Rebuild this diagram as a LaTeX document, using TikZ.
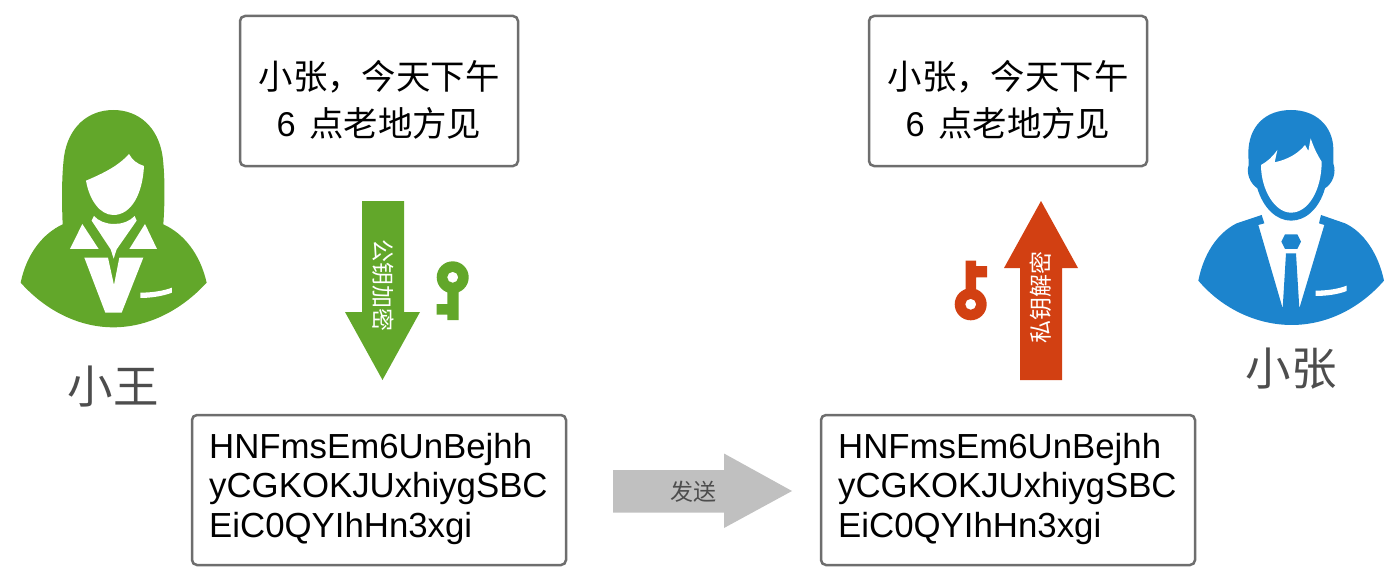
\documentclass[tikz,border=0pt]{standalone}
\usepackage{fontspec}
\setmainfont{Liberation Sans}
\newfontfamily\cjk{Noto Sans CJK SC}
\usepackage{xcolor}
\definecolor{vert}{HTML}{62A72A}
\definecolor{bleu}{HTML}{1C84CD}
\definecolor{rouge}{HTML}{D24012}
\definecolor{gris}{HTML}{C0C0C0}
\definecolor{bord}{HTML}{6E6E6E}
\definecolor{encre}{HTML}{4D4D4D}
\begin{document}
\begin{tikzpicture}[x=1pt,y=-1pt]
% Styles
\tikzstyle{boite}=[draw=bord,line width=2.5pt,rounded corners=5pt,fill=white,inner sep=0pt,align=center]
\tikzstyle{haut}=[boite,minimum width=278pt,minimum height=150pt]
\tikzstyle{bas}=[boite,minimum width=374pt,minimum height=150pt]
\tikzstyle{ligne}=[inner sep=0pt,font=\fontsize{34.4pt}{34.4pt}\selectfont]
\tikzstyle{chiffre}=[anchor=base west,inner sep=0pt,font=\fontsize{34.8pt}{34.8pt}\selectfont]
\tikzstyle{nom}=[text=encre,inner sep=0pt,font=\cjk\fontsize{45.5pt}{45.5pt}\selectfont]
\tikzstyle{sens}=[text=white,inner sep=0pt,font=\cjk\fontsize{23pt}{23pt}\selectfont]
\useasboundingbox (0,0) rectangle (1396,586);
% Boites
\node[haut] (ClairA) at (379,91) {};
\node[haut] (ClairB) at (1008,91) {};
\node[bas] (ChiffreA) at (379,490) {};
\node[bas] (ChiffreB) at (1008,490) {};
\node[ligne] (TexteAa) at (379,77) {\cjk 小张，今天下午};
\node[ligne] (TexteAb) at (379,123) {6\hspace{4pt} {\cjk 点老地方见}};
\node[ligne] (TexteBa) at (1008,77) {\cjk 小张，今天下午};
\node[ligne] (TexteBb) at (1008,123) {6\hspace{4pt} {\cjk 点老地方见}};
\node[chiffre] (LigneAa) at (209,458) {HNFmsEm6UnBejhh};
\node[chiffre] (LigneAb) at (209,497.5) {yCGKOKJUxhiygSBC};
\node[chiffre] (LigneAc) at (209,537) {EiC0QYIhHn3xgi};
\node[chiffre] (LigneBa) at (838,458) {HNFmsEm6UnBejhh};
\node[chiffre] (LigneBb) at (838,497.5) {yCGKOKJUxhiygSBC};
\node[chiffre] (LigneBc) at (838,537) {EiC0QYIhHn3xgi};
% Fleches
\fill[vert] (362,201)--(404,201)--(404,312)--(420,312)--(382.5,380)--(345,312)--(362,312)--cycle;
\fill[rouge] (1020,380)--(1062,380)--(1062,268)--(1078,268)--(1041,201)--(1004,268)--(1020,268)--cycle;
\fill[gris] (613,470)--(724,470)--(724,453.5)--(792,491)--(724,528)--(724,512.5)--(613,512.5)--cycle;
\node[sens,rotate=-90] (Chiffrer) at (383,285) {公钥加密};
\node[sens,rotate=90] (Dechiffrer) at (1041,297) {私钥解密};
\node[sens,text=encre] (Envoi) at (693,491.5) {发送};
% Cles
\fill[vert,even odd rule] (452.7,277.3) circle (16) (452.7,277.3) circle (5.5);
\fill[vert] (447.3,290)--(458.7,290)--(458.7,320)--(447.3,320)--(447.3,314.7)--(436.7,314.7)--(436.7,304)--(447.3,304)--cycle;
\fill[rouge,even odd rule] (970.7,304.3) circle (16) (970.7,304.3) circle (5.5);
\fill[rouge] (965.7,292)--(976,292)--(976,277.3)--(987,277.3)--(987,266)--(976,266)--(976,260.7)--(965.7,260.7)--cycle;
% Xiao Wang
\begin{scope}[shift={(0,90)},x=0.3333pt,y=-0.3333pt]
\fill[vert] (62,578) .. controls (140,665) and (240,712) .. (340,712) .. controls (440,712) and (540,665) .. (620,578) .. controls (600,490) and (550,430) .. (490,403) .. controls (495,330) and (495,260) .. (488,200) .. controls (475,110) and (415,60) .. (340,60) .. controls (265,60) and (205,110) .. (192,200) .. controls (185,260) and (185,330) .. (188,403) .. controls (130,430) and (80,490) .. (62,578) -- cycle;
\fill[white] (258,272) .. controls (310,250) and (355,228) .. (387,192) .. controls (397,210) and (412,222) .. (432,228) .. controls (428,310) and (395,375) .. (340,375) .. controls (300,375) and (268,330) .. (258,272) -- cycle;
\fill[white] (282,378) .. controls (310,410) and (375,410) .. (404,378) -- (410,392) -- (350,478) -- (341,506) -- (332,478) -- (275,392) -- cycle;
\fill[white] (247,402)--(210,477)--(296,477)--cycle;
\fill[white] (435,402)--(388,477)--(471,477)--cycle;
\fill[white] (253,503)--(324,503)--(342,585)--(358,503)--(430,503)--(365,668)--(316,668)--cycle;
\fill[white] (421,608) .. controls (455,608) and (490,603) .. (516,593) -- (516,608) .. controls (490,618) and (455,624) .. (421,624) -- cycle;
\end{scope}
% Xiao Zhang
\begin{scope}[shift={(1180,90)},x=0.3333pt,y=-0.3333pt]
\fill[bleu] (333,60) .. controls (255,60) and (205,110) .. (205,190) -- (206,225) .. controls (198,250) and (210,280) .. (232,295) .. controls (250,355) and (290,392) .. (333,392) .. controls (378,392) and (418,355) .. (435,295) .. controls (458,280) and (470,250) .. (460,220) -- (460,175) .. controls (458,110) and (410,60) .. (333,60) -- cycle;
\fill[white] (243,225) .. controls (262,215) and (278,200) .. (292,180) -- (284,217) .. controls (325,208) and (355,190) .. (375,165) -- (385,183) -- (392,145) .. controls (400,170) and (412,195) .. (425,215) .. controls (425,300) and (385,368) .. (333,368) .. controls (285,368) and (243,300) .. (243,225) -- cycle;
\fill[bleu] (55,572) .. controls (130,660) and (235,705) .. (335,705) .. controls (435,705) and (535,660) .. (612,572) .. controls (595,490) and (550,425) .. (495,400) -- (423,375) -- (417,400) -- (433,405) -- (358,655) -- (348,490) -- (318,490) -- (308,655) -- (235,405) -- (253,400) -- (245,375) -- (170,400) .. controls (110,430) and (70,495) .. (55,572) -- cycle;
\fill[bleu] (315,433)--(352,433)--(363,455)--(352,477)--(315,477)--(304,455)--cycle;
\fill[white] (407,602) .. controls (440,602) and (475,597) .. (500,587) -- (500,603) .. controls (475,613) and (440,618) .. (407,618) -- cycle;
\end{scope}
% Noms
\node[nom] (Wang) at (113,387) {小王};
\node[nom] (Zhang) at (1291,369) {小张};
\end{tikzpicture}
\end{document}
